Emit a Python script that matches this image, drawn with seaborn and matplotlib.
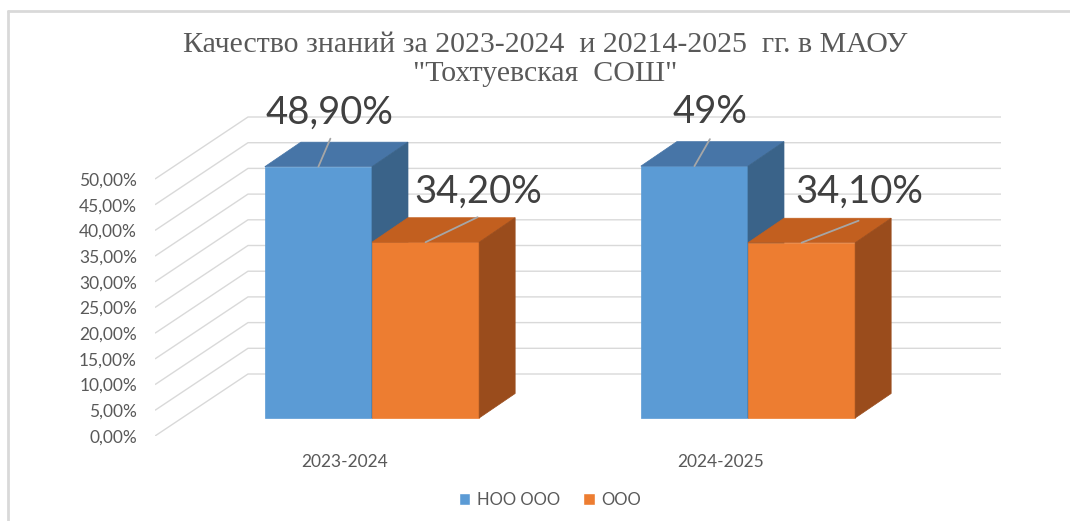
import pandas as pd
import matplotlib
matplotlib.use("Agg")
import matplotlib.pyplot as plt
import seaborn as sns
from matplotlib.lines import Line2D
from matplotlib.patches import Polygon, Patch

# Data
years = ["2023-2024", "2024-2025"]
levels = ["НОО ООО", "ООО"]
noo_values = [0.489, 0.49]
ooo_values = [0.342, 0.341]
value_labels = ["48,90%", "34,20%", "49%", "34,10%"]
y_ticks = [0.0, 0.05, 0.10, 0.15, 0.20, 0.25, 0.30, 0.35, 0.40, 0.45, 0.50]
y_tick_labels = ["0,00%", "5,00%", "10,00%", "15,00%", "20,00%", "25,00%",
                 "30,00%", "35,00%", "40,00%", "45,00%", "50,00%"]

df = pd.DataFrame({
    "year": years * 2,
    "level": [levels[0]] * 2 + [levels[1]] * 2,
    "value": noo_values + ooo_values,
})

sns.set_style("white")
plt.rcParams["font.family"] = ["Lato", "DejaVu Sans"]

colors = {"НОО ООО": ("#5B9BD5", "#4775A7", "#3A6389"),
          "ООО": ("#ED7D31", "#C25F1F", "#9A4C1C")}
grid_color = "#D9D9D9"
text_color = "#595959"

W, H = 1070, 521
fig = plt.figure(figsize=(W / 100, H / 100), dpi=100)
ax = fig.add_axes([155 / W, (H - 436) / H, (1001 - 155) / W, (436 - 115) / H])

sns.barplot(data=df, x="year", y="value", hue="level",
            palette=[colors[l][0] for l in levels], width=0.57,
            saturation=1, legend=False, ax=ax, zorder=3)

ax.set_xlim(-0.5771, 1.6729)
ax.set_ylim(-0.035, 0.5895)
for s in ax.spines.values():
    s.set_visible(False)
ax.set_xlabel("")
ax.set_ylabel("")
ax.set_xticks([])

# pixel -> data scale
t = ax.transData
(x0p, y0p), (x1p, y1p) = t.transform((0, 0)), t.transform((1, 1))
sx, sy = x1p - x0p, y1p - y0p

FRONT = (-27, -18)
BACK = (66, 44)
BAR_BACK = (36, 24.5)


def P(x, v, off=(0, 0)):
    return (x + off[0] / sx, v + off[1] / sy)


# back wall grid + left wall diagonals
xw = (182 - 372) / 376
xr = (935 - 372) / 376
for v in y_ticks:
    a = P(xw, v, FRONT)
    b = P(xw, v, BACK)
    c = P(xr, v, BACK)
    ax.plot([a[0], b[0], c[0]], [a[1], b[1], c[1]], color=grid_color,
            lw=1, zorder=1, solid_capstyle="butt")

ax.set_yticks([P(0, v, FRONT)[1] for v in y_ticks])
ax.set_yticklabels(y_tick_labels)
ax.tick_params(axis="y", length=0, pad=13, labelsize=12.5, labelcolor=text_color)

# 3D faces
bars = sorted(ax.patches, key=lambda p: p.get_x())
for p in bars:
    x0 = p.get_x()
    w = p.get_width()
    h = p.get_height()
    lvl = levels[0] if min(abs(h - v) for v in noo_values) < 1e-6 else levels[1]
    front, top, side = colors[lvl]
    z = 3 if lvl == levels[0] else 5
    p.set_zorder(z)
    p.set_edgecolor(front)
    p.set_linewidth(0.5)
    top_face = [(x0, h), (x0 + w, h), P(x0 + w, h, BAR_BACK), P(x0, h, BAR_BACK)]
    side_face = [(x0 + w, 0), (x0 + w, h), P(x0 + w, h, BAR_BACK), P(x0 + w, 0, BAR_BACK)]
    ax.add_patch(Polygon(top_face, closed=True, facecolor=top, edgecolor=top, lw=0.5, zorder=z))
    ax.add_patch(Polygon(side_face, closed=True, facecolor=side, edgecolor=side, lw=0.5, zorder=z))

# data labels with leader lines
leader_off = [(12, 28), (52, 25), (15.5, 27), (57, 22)]
text_off = [(11, 54), (53, 50), (15.5, 54), (58, 51)]
for i, p in enumerate(bars):
    cx = p.get_x() + p.get_width() / 2
    h = p.get_height()
    a = (cx, h)
    b = P(cx, h, leader_off[i])
    ax.plot([a[0], b[0]], [a[1], b[1]], color="#A6A6A6", lw=1.3, zorder=6)
    tx = P(cx, h, text_off[i])
    ax.text(tx[0], tx[1], value_labels[i], ha="center", va="center",
            fontsize=27.5, color="#404040", zorder=7)

# category labels
for i, yr in enumerate(years):
    ax.annotate(yr, xy=P(i, 0, FRONT), xytext=(0, -26), textcoords="offset pixels",
                ha="center", va="center", fontsize=12.5, color=text_color)

# title
fig.text(545 / W, 1 - 45 / H, "Качество знаний за 2023-2024  и 20214-2025  гг. в МАОУ",
         ha="center", va="center", fontsize=21.5, family="Liberation Serif", color=text_color)
fig.text(545 / W, 1 - 74 / H, "\"Тохтуевская  СОШ\"",
         ha="center", va="center", fontsize=21.5, family="Liberation Serif", color=text_color)

# legend
handles = [Patch(facecolor=colors[l][0], label=l) for l in levels]
fig.legend(handles=handles, loc="center", bbox_to_anchor=(550 / W, 1 - 500 / H),
           ncol=2, frameon=False, fontsize=12, labelcolor=text_color,
           handlelength=0.7, handleheight=0.7, handletextpad=0.4, columnspacing=1.4)

# chart frame
fig.add_artist(Line2D([8 / W, 8 / W], [0, 1 - 11 / H], transform=fig.transFigure,
                      color=grid_color, lw=2))
fig.add_artist(Line2D([8 / W, 1], [1 - 11 / H, 1 - 11 / H], transform=fig.transFigure,
                      color=grid_color, lw=2))

fig.savefig("out.png", dpi=100)
